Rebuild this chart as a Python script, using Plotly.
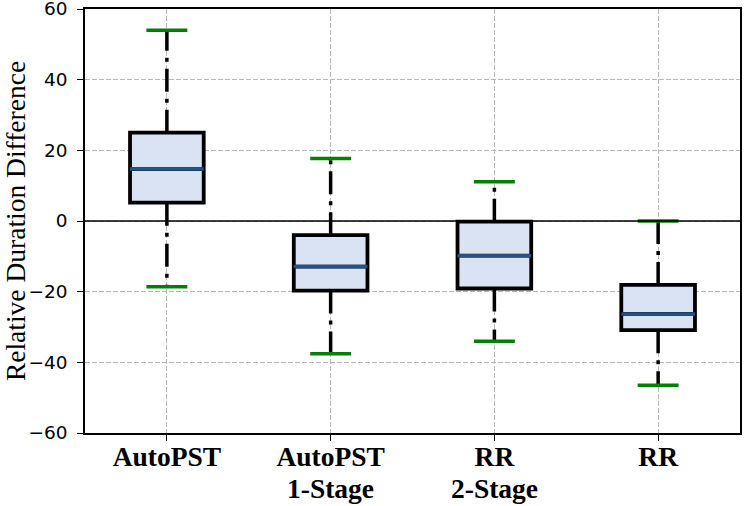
import plotly.graph_objects as go

positions = [1, 2, 3, 4]
tick_line1 = ["AutoPST", "AutoPST", "RR", "RR"]
tick_line2 = ["", "1-Stage", "2-Stage", ""]
lower_whisker = [-18.6, -37.6, -34.0, -46.5]
q1 = [5.2, -19.7, -19.1, -30.9]
median = [14.7, -12.9, -9.8, -26.3]
q3 = [25.0, -4.0, -0.2, -18.1]
upper_whisker = [54.0, 17.7, 11.1, 0.0]
y_ticks = [-60, -40, -20, 0, 20, 40, 60]

box_w = 0.45
cap_w = 0.25
dash_pattern = "23px,7px,4px,7px"

fig = go.Figure()

# whiskers (dash-dot), drawn outward from the box
for i, p in enumerate(positions):
    fig.add_trace(go.Scatter(x=[p, p], y=[q3[i], upper_whisker[i]], mode="lines",
                             line=dict(color="black", width=3.5, dash=dash_pattern),
                             showlegend=False, hoverinfo="skip"))
    fig.add_trace(go.Scatter(x=[p, p], y=[q1[i], lower_whisker[i]], mode="lines",
                             line=dict(color="black", width=3.5, dash=dash_pattern),
                             showlegend=False, hoverinfo="skip"))

# boxes
fig.add_trace(go.Box(x=positions, q1=q1, median=median, q3=q3,
                     lowerfence=q1, upperfence=q3, width=box_w, whiskerwidth=0,
                     fillcolor="#dae3f3", line=dict(color="black", width=3.8),
                     boxpoints=False, showlegend=False, hoverinfo="skip"))

# medians
for i, p in enumerate(positions):
    fig.add_trace(go.Scatter(x=[p - box_w / 2, p + box_w / 2], y=[median[i], median[i]], mode="lines",
                             line=dict(color="#255283", width=3.5),
                             showlegend=False, hoverinfo="skip"))

# caps
for i, p in enumerate(positions):
    for v in (lower_whisker[i], upper_whisker[i]):
        fig.add_trace(go.Scatter(x=[p - cap_w / 2, p + cap_w / 2], y=[v, v], mode="lines",
                                 line=dict(color="green", width=3.5),
                                 showlegend=False, hoverinfo="skip"))

fig.add_hline(y=0, line=dict(color="black", width=1.5), layer="above")

# second line of the category labels
for p, t in zip(positions, tick_line2):
    if t:
        fig.add_annotation(x=p, xref="x", y=0, yref="paper", yanchor="top", yshift=-39,
                           text="<b>" + t + "</b>", showarrow=False, borderpad=0,
                           font=dict(family="Liberation Serif", size=27.5, color="black"))

fig.update_layout(
    width=748, height=506,
    margin=dict(l=85, r=8, t=9, b=73),
    plot_bgcolor="white", paper_bgcolor="white",
    font=dict(family="DejaVu Sans", color="black"),
)
fig.update_xaxes(range=[0.5, 4.5], tickvals=positions,
                 ticktext=["<b>" + t + "</b>" for t in tick_line1],
                 tickfont=dict(family="Liberation Serif", size=27.5),
                 showline=True, linecolor="black", linewidth=1.5, mirror=True,
                 ticks="outside", ticklen=6, tickcolor="black",
                 ticklabelstandoff=-8, ticklabeloverflow="allow",
                 showgrid=True, gridcolor="#b8b8b8", griddash="5px,2px", gridwidth=1,
                 zeroline=False, automargin=False)
fig.update_yaxes(range=[-60, 60], tickvals=y_ticks,
                 ticktext=[str(v).replace("-", "\u2212") for v in y_ticks],
                 tickfont=dict(family="DejaVu Sans", size=18.5),
                 showline=True, linecolor="black", linewidth=1.5, mirror=True,
                 ticks="outside", ticklen=6, tickcolor="black",
                 ticklabelstandoff=6, ticklabeloverflow="allow",
                 showgrid=True, gridcolor="#b8b8b8", griddash="5px,2px", gridwidth=1,
                 zeroline=False, automargin=False,
                 title=dict(text="Relative Duration Difference",
                            font=dict(family="Liberation Serif", size=27.5), standoff=8))

fig.write_html("out.html", config={"displayModeBar": False},
               post_script="document.body.style.margin='0';")
